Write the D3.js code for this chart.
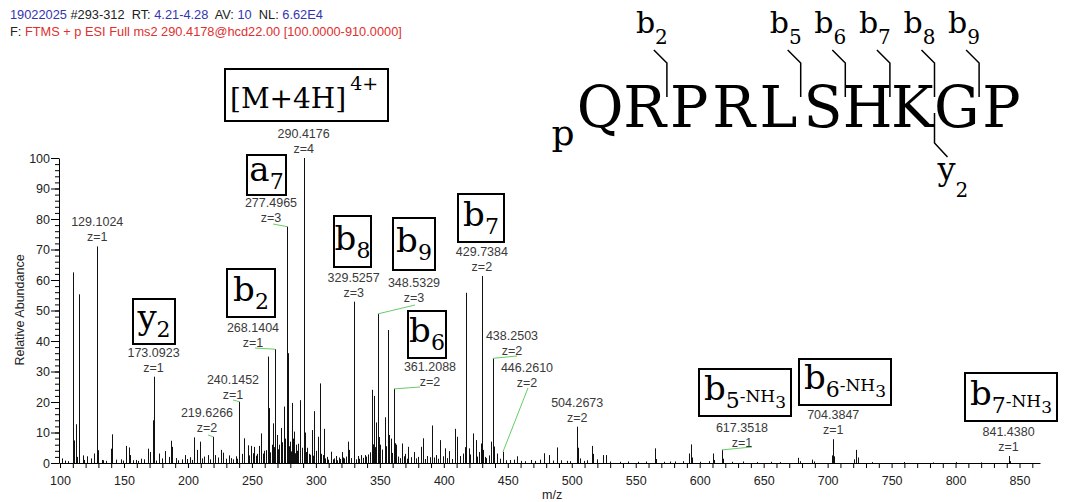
<!DOCTYPE html>
<html>
<head>
<meta charset="utf-8">
<script src="https://cdn.jsdelivr.net/npm/d3@7"></script>
<style>
  body { margin: 0; background: #fff; }
  svg { display: block; font-family: "Liberation Sans", Arial, sans-serif; }
</style>
</head>
<body>
<svg id="chart" width="1070" height="502"></svg>
<script>
// ---- Spectrum data: centroid m/z and relative abundance (%) ----
const peakMz = [
  101.2,103.5,106.0,109.8,111.2,112.3,113.0,114.6,115.1,117.7,118.8,121.0,124.5,126.8,129.9,132.5,133.9,136.0,
  139.8,140.6,143.5,147.3,149.0,151.6,154.1,155.0,157.2,159.5,161.0,163.3,165.5,168.5,170.3,172.8,175.0,177.6,
  179.5,182.0,184.8,186.7,187.5,190.8,192.5,195.0,197.7,199.3,201.6,203.4,205.0,206.8,209.6,211.0,212.7,215.3,
  217.3,221.3,223.6,225.8,227.1,229.5,232.3,233.8,235.5,237.2,238.6,242.3,244.0,246.6,247.8,249.2,250.5,251.8,
  253.0,254.0,255.7,257.0,258.3,259.5,260.7,262.3,263.5,264.4,265.5,266.6,267.3,269.3,270.2,271.0,272.7,273.6,
  274.8,275.5,276.2,277.83,278.5,279.0,279.5,280.3,281.0,282.2,283.0,284.0,284.4,285.3,286.2,287.7,288.8,289.2,
  290.67,291.0,291.6,292.4,293.2,294.5,295.3,296.9,297.8,298.7,299.7,300.3,301.3,302.9,303.6,304.2,305.2,306.0,
  307.1,308.5,309.7,311.7,313.0,314.0,315.5,316.7,318.0,319.0,320.1,321.4,322.0,323.5,324.8,326.0,327.6,331.0,
  332.8,333.7,335.0,336.5,338.0,339.4,340.7,342.2,343.6,344.6,345.4,346.2,347.0,349.3,350.5,351.6,354.0,355.0,
  356.2,357.3,358.5,359.6,362.0,363.0,364.3,366.0,367.3,369.0,370.0,371.0,372.1,374.0,376.5,378.3,380.0,382.0,
  383.8,385.0,387.2,389.0,390.8,392.4,393.6,395.5,397.2,399.1,400.8,402.5,404.2,406.0,408.9,410.4,412.3,414.6,
  416.5,417.2,417.6,419.5,420.7,422.8,424.8,426.3,427.8,428.9,430.1,431.0,432.0,433.3,435.6,436.9,439.1,441.5,
  443.7,448.7,452.0,455.0,457.0,460.3,463.7,468.0,471.5,475.0,478.6,482.0,485.0,488.2,491.5,496.5,498.6,504.6,
  506.6,509.3,512.0,515.6,516.4,519.5,524.7,526.6,530.0,538.0,544.0,552.0,558.0,565.2,566.2,572.0,576.7,581.0,
  587.0,591.8,593.1,594.2,600.5,607.0,610.3,611.4,618.1,625.0,634.0,645.0,656.0,663.0,677.2,678.4,687.7,689.0,
  703.6,705.1,720.5,722.3,723.4,735.0,760.0,782.0,800.0,820.0,842.2
];
const peakIntensity = [
  1.5,0.8,0.6,62.5,7.4,12.7,2.0,28,55.3,2.5,1.0,2.2,1.5,3.1,4.2,1.0,0.9,0.7,
  4.7,9.4,1.1,1.2,0.8,5.6,5.1,2.6,0.9,1.0,0.7,1.4,1.2,4.7,3.6,14,0.8,3.1,
  1.5,3.9,2.0,7.3,5.3,1.6,0.9,1.2,2.6,1.3,1.9,1.0,8.4,4.3,7.0,1.5,2.1,2.6,
  1.2,2.6,1.8,4.3,3.4,1.4,2.5,1.6,1.2,2.2,1.4,3.0,8.1,5.8,2.5,5.6,3.2,5.3,
  2.4,3.0,5.6,9.7,3.1,4.0,4.2,34.9,18,3.5,6.0,13,5.2,9.2,4.5,6.0,11.5,6.8,
  18.5,4.1,8.0,36,14,5.5,7.0,3.8,19.7,8.0,10.3,3.2,6.0,4.0,6.3,20.6,5.0,4.4,
  60,25,10,3.6,5.0,3.0,2.7,10.8,2.4,17,3.1,4.0,8.6,26.1,1.8,3.0,2.6,11.2,
  1.5,2.0,1.1,3.7,1.2,1.5,2.3,0.9,1.8,1.3,3.6,1.8,1.5,2.1,7.0,4.3,1.6,1.2,
  2.3,1.4,2.6,1.7,2.6,2.1,2.8,3.5,24,6.1,22,5.2,13.3,8.5,6.0,4.4,15,5.5,
  43.6,9.2,8.0,3.3,6.5,6.0,2.1,1.6,6.4,2.2,3.0,1.4,5.3,1.9,3.6,1.5,2.0,5.3,
  8.1,1.3,2.3,1.9,12.3,1.8,2.6,1.4,7.5,2.2,4.8,1.6,3.9,1.3,11.2,8.6,2.3,3.1,
  5.2,9.5,55.8,4.8,2.8,9.7,7.5,2.1,3.6,6.4,30,4.3,2.0,1.6,2.5,7.0,5.4,3.1,
  1.4,0.9,1.0,1.1,2.2,0.7,0.6,1.0,0.7,1.1,3.2,2.6,0.8,5.1,0.9,0.7,0.6,5.0,
  1.5,0.7,0.9,5.6,3.0,1.2,2.6,2.6,0.5,0.4,0.5,0.4,0.5,4.8,1.3,0.4,0.5,0.5,
  0.6,3.1,6.1,1.8,0.4,0.6,3.1,1.0,1.4,0.4,0.5,0.3,0.4,0.3,1.7,0.6,1.1,0.5,
  2.5,2.2,1.2,4.3,1.8,0.3,0.3,0.2,0.3,0.2,0.6
];

// Annotated peaks: m/z, relative abundance, charge state
const labeledMz = [129.1024,173.0923,219.6266,240.1452,268.1404,277.4965,290.4176,329.5257,348.5329,
                   361.2088,429.7384,438.2503,446.2610,504.2673,617.3518,704.3847,841.4380];
const labeledIntensity = [71,28.3,8.6,20.1,37.3,77.5,100,52.9,48.9,24.3,61.3,34.3,3.7,11.9,4.3,7.8,2.3];
const labeledCharge = [1,1,2,1,1,3,4,3,3,2,2,2,2,2,1,1,1];

// Axis ticks
const xTickValues = d3.range(100, 861, 10);
const xTickLabels = [100,150,200,250,300,350,400,450,500,550,600,650,700,750,800,850];
const yTickValues = [0,10,20,30,40,50,60,70,80,90,100];
const yMinorTicks = d3.range(0, 101, 2);

// Peptide sequence and observed fragments
const residues = ["Q","R","P","R","L","S","H","K","G","P"];
const bFragments = [2,5,6,7,8,9];
const yFragments = [2];

// ---- Layout ----
const svg = d3.select("#chart");
const x = d3.scaleLinear().domain([99.2, 866]).range([59, 1040]);
const y = d3.scaleLinear().domain([0, 100]).range([463, 158]);

// Scan header
const headerLines = [
  { y: 19, parts: [["19022025","#3535b0"],[" #293-312  RT: ","#222"],["4.21-4.28","#3535b0"],["  AV: ","#222"],["10","#3535b0"],["  NL: ","#222"],["6.62E4","#3535b0"]] },
  { y: 36, parts: [["F: ","#222"],["FTMS + p ESI Full ms2 290.4178@hcd22.00 [100.0000-910.0000]","#e03030"]] }
];
headerLines.forEach(line => {
  const t = svg.append("text").attr("x", 10).attr("y", line.y)
    .style("font-size", "12.8px").style("white-space", "pre");
  line.parts.forEach(p => t.append("tspan").attr("fill", p[1]).text(p[0]));
});

// Axes
const gx = svg.append("g").attr("transform", `translate(0,${y(0)})`)
  .call(d3.axisBottom(x).tickValues(xTickValues).tickSizeInner(5).tickSizeOuter(0)
    .tickFormat(d => xTickLabels.includes(d) ? d : ""));
gx.selectAll("text").attr("dy", "1.15em").style("font-size", "12.5px").attr("fill", "#222")
  .style("font-family", "Liberation Sans, Arial, sans-serif");
gx.selectAll("line").attr("stroke", "#000");
gx.select(".domain").attr("stroke", "#000");

const gyMinor = svg.append("g").attr("transform", `translate(59,0)`)
  .call(d3.axisLeft(y).tickValues(yMinorTicks).tickSizeInner(4).tickSizeOuter(0).tickFormat(""));
gyMinor.select(".domain").remove();
gyMinor.selectAll("line").attr("stroke", "#000");

const gy = svg.append("g").attr("transform", `translate(59,0)`)
  .call(d3.axisLeft(y).tickValues(yTickValues).tickSizeInner(8).tickSizeOuter(0));
gy.selectAll("text").attr("x", -9).style("font-size", "12.5px").attr("fill", "#222")
  .style("font-family", "Liberation Sans, Arial, sans-serif");
gy.selectAll("line").attr("stroke", "#000");
gy.select(".domain").attr("stroke", "#000");

svg.append("text").attr("transform", "translate(24,310) rotate(-90)")
  .attr("text-anchor", "middle").style("font-size", "12.5px").attr("fill", "#222")
  .text("Relative Abundance");
svg.append("text").attr("x", 542).attr("y", 499)
  .style("font-size", "12.5px").attr("fill", "#222").text("m/z");

// Peaks
const peaks = peakMz.map((m, i) => ({ mz: m, v: peakIntensity[i] }))
  .concat(labeledMz.map((m, i) => ({ mz: m, v: labeledIntensity[i] })));
svg.append("g").selectAll("line").data(peaks).join("line")
  .attr("x1", d => Math.round(x(d.mz)) + 0.5).attr("x2", d => Math.round(x(d.mz)) + 0.5)
  .attr("y1", y(0)).attr("y2", d => y(d.v))
  .attr("stroke", "#111").attr("stroke-width", 1);

// Peak labels; entries with a leader give the label centre in pixels
const labelLeaders = {
  "219.6266": { cx: 207, cy: 413, lx: 208, ly: 435 },
  "240.1452": { cx: 233, cy: 380, lx: 233, ly: 400 },
  "268.1404": { cx: 253, cy: 328, lx: 255, ly: 348 },
  "277.4965": { cx: 271, cy: 203, lx: 273, ly: 224 },
  "348.5329": { cx: 414, cy: 283, lx: 415, ly: 305 },
  "361.2088": { cx: 430, cy: 367, lx: 420, ly: 387 },
  "438.2503": { cx: 512, cy: 336, lx: 517, ly: 356 },
  "446.2610": { cx: 527, cy: 368, lx: 528, ly: 388 },
  "617.3518": { cx: 742, cy: 428, lx: 752, ly: 447 }
};
const labelG = svg.append("g").style("font-size", "12.5px").attr("fill", "#3a3a3a").attr("text-anchor", "middle");
labeledMz.forEach((m, i) => {
  const key = m.toFixed(4);
  const px = x(m), py = y(labeledIntensity[i]);
  const lead = labelLeaders[key];
  let cx, cy;
  if (lead) {
    cx = lead.cx; cy = lead.cy;
    labelG.append("line").attr("x1", lead.lx).attr("y1", lead.ly).attr("x2", px).attr("y2", py)
      .attr("stroke", "#6c6").attr("stroke-width", 1);
  } else {
    cx = px; cy = py - 24;
  }
  labelG.append("text").attr("x", cx).attr("y", cy + 4).text(key);
  labelG.append("text").attr("x", cx).attr("y", cy + 19).text("z=" + labeledCharge[i]);
});

// Fragment ion boxes
const serif = "DejaVu Serif, serif";
const ionBoxes = [
  { x: 133, y: 299, w: 42, h: 45, ion: "y", n: "2" },
  { x: 227, y: 269, w: 48, h: 48, ion: "b", n: "2" },
  { x: 247, y: 155, w: 39, h: 40, ion: "a", n: "7" },
  { x: 334, y: 216, w: 37, h: 51, ion: "b", n: "8" },
  { x: 393, y: 218, w: 42, h: 52, ion: "b", n: "9" },
  { x: 408, y: 311, w: 38, h: 47, ion: "b", n: "6" },
  { x: 458, y: 194, w: 46, h: 48, ion: "b", n: "7" },
  { x: 699, y: 369, w: 92, h: 47, ion: "b", n: "5", loss: true },
  { x: 799, y: 359, w: 92, h: 46, ion: "b", n: "6", loss: true },
  { x: 965, y: 373, w: 92, h: 48, ion: "b", n: "7", loss: true }
];
const boxG = svg.append("g");
ionBoxes.forEach(b => {
  boxG.append("rect").attr("x", b.x).attr("y", b.y).attr("width", b.w).attr("height", b.h)
    .attr("fill", "#fff").attr("stroke", "#000").attr("stroke-width", 2);
  const t = boxG.append("text").attr("x", b.x + b.w / 2).attr("y", b.y + b.h * 0.66)
    .attr("text-anchor", "middle").style("font-family", serif).attr("fill", "#000");
  t.append("tspan").style("font-size", "34px").text(b.ion);
  t.append("tspan").style("font-size", "22px").attr("dy", 8).text(b.n);
  if (b.loss) {
    t.append("tspan").style("font-size", "17px").attr("dy", -6).text("-NH");
    t.append("tspan").style("font-size", "17px").attr("dy", 6).text("3");
  }
});

// Precursor box
const prec = { x: 225, y: 69, w: 163, h: 52 };
boxG.append("rect").attr("x", prec.x).attr("y", prec.y).attr("width", prec.w).attr("height", prec.h)
  .attr("fill", "#fff").attr("stroke", "#000").attr("stroke-width", 2);
const pt = boxG.append("text").attr("x", prec.x + 5).attr("y", prec.y + 39)
  .style("font-family", serif).attr("fill", "#000");
pt.append("tspan").style("font-size", "28px").text("[M+4H]");
pt.append("tspan").style("font-size", "19px").attr("dx", 4).attr("dy", -18).text("4+");

// Peptide sequence with fragmentation marks
const seqX0 = 600, seqPitch = 44.6, seqBase = 127;
const seqG = svg.append("g").style("font-family", serif).attr("fill", "#000");
seqG.append("text").attr("x", 563).attr("y", 145).attr("text-anchor", "middle")
  .style("font-size", "36px").text("p");
residues.forEach((r, i) => {
  seqG.append("text").attr("x", seqX0 + i * seqPitch).attr("y", seqBase)
    .attr("text-anchor", "middle").style("font-size", "57px").text(r);
});
const gapX = k => seqX0 + (k - 0.5) * seqPitch;
bFragments.forEach(k => {
  const gxp = gapX(k);
  seqG.append("path").attr("d", `M${gxp - 13},50 L${gxp},63 L${gxp},97`)
    .attr("fill", "none").attr("stroke", "#000").attr("stroke-width", 1.5);
  const t = seqG.append("text").attr("x", gxp - 31).attr("y", 33);
  t.append("tspan").style("font-size", "30px").text("b");
  t.append("tspan").style("font-size", "20px").attr("dy", 11).text(k);
});
yFragments.forEach(k => {
  const gxp = gapX(residues.length - k);
  seqG.append("path").attr("d", `M${gxp},113 L${gxp},143 L${gxp + 13},157`)
    .attr("fill", "none").attr("stroke", "#000").attr("stroke-width", 1.5);
  const t = seqG.append("text").attr("x", gxp + 3).attr("y", 180);
  t.append("tspan").style("font-size", "32px").text("y");
  t.append("tspan").style("font-size", "20px").attr("dy", 17).text(k);
});
</script>
</body>
</html>
